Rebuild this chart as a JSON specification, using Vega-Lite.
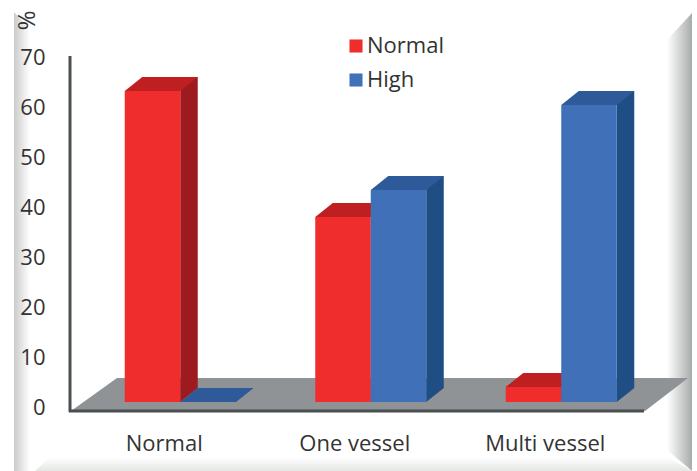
{
  "$schema": "https://vega.github.io/schema/vega-lite/v6.json",
  "width": 575,
  "height": 360,
  "autosize": "none",
  "padding": {"left": 70, "top": 52, "right": 52, "bottom": 59},
  "background": "white",
  "config": {
    "view": {"stroke": null},
    "font": "Open Sans",
    "point": {"filled": true, "opacity": 1, "size": 4, "strokeWidth": 0}
  },
  "data": {"values": [
    {"category": "Normal", "series": "Normal", "value": 62.2},
    {"category": "Normal", "series": "High", "value": 0},
    {"category": "One vessel", "series": "Normal", "value": 37},
    {"category": "One vessel", "series": "High", "value": 42.4},
    {"category": "Multi vessel", "series": "Normal", "value": 3},
    {"category": "Multi vessel", "series": "High", "value": 59.4}
  ]},
  "encoding": {
    "x": {
      "field": "category",
      "type": "nominal",
      "title": null,
      "scale": {"domain": ["Normal", "One vessel", "Multi vessel"], "range": [15, 586.5], "paddingInner": 0, "paddingOuter": 0},
      "axis": {"labelAngle": 0, "labelOffset": -16, "labelPadding": 21, "labelFontSize": 22, "labelFont": "Open Sans", "labelColor": "#333333", "ticks": false, "domain": false, "grid": false, "zindex": 1}
    },
    "y": {
      "field": "value",
      "type": "quantitative",
      "scale": {"domain": [-2, 70], "nice": false, "zero": false},
      "axis": {"values": [0, 10, 20, 30, 40, 50, 60, 70], "domain": false, "ticks": false, "grid": false, "zindex": 1, "labelPadding": 25, "labelOffset": 5, "labelFontSize": 22, "labelFont": "Open Sans", "labelColor": "#333333", "title": "%", "titleAngle": 90, "titleFontSize": 24, "titleFontWeight": "normal", "titleColor": "#333333", "titleX": -58, "titleY": -32, "titleFont": "Open Sans"}
    }
  },
  "layer": [
    {
      "transform": [{"filter": "datum.category === 'One vessel' && datum.series === 'High'"}],
      "mark": {"type": "point", "shape": "M-356.75,-390L-340.75,-372L-340.75,69L-356.75,69Z", "color": {"gradient": "linear", "x1": 0, "x2": 1, "y1": 0, "y2": 0, "stops": [{"offset": 0, "color": "#c9ccca"}, {"offset": 1, "color": "#ffffff"}]}},
      "encoding": {"y": {"datum": 0}}
    },
    {
      "transform": [{"filter": "datum.category === 'One vessel' && datum.series === 'High'"}],
      "mark": {"type": "point", "shape": "M296.25,-362L321.25,-389L321.25,69L296.25,48Z", "color": {"gradient": "linear", "x1": 0, "x2": 1, "y1": 0, "y2": 0, "stops": [{"offset": 0, "color": "#ffffff"}, {"offset": 1, "color": "#a9adaa"}]}},
      "encoding": {"y": {"datum": 0}}
    },
    {
      "transform": [{"filter": "datum.category === 'One vessel' && datum.series === 'High'"}],
      "mark": {"type": "point", "shape": "M-335.75,69L-320.75,55L296.25,55L321.25,69Z", "color": {"gradient": "linear", "x1": 0, "x2": 0, "y1": 0, "y2": 1, "stops": [{"offset": 0, "color": "#ffffff"}, {"offset": 1, "color": "#e4e6e4"}]}},
      "encoding": {"y": {"datum": 0}}
    },
    {
      "transform": [{"filter": "datum.category === 'One vessel' && datum.series === 'High'"}],
      "mark": {"type": "point", "shape": "M-299.75,9L-253.75,-24L317.25,-24L274.25,9Z", "color": "#8f9395"},
      "encoding": {"y": {"datum": 0}}
    },
    {
      "transform": [{"filter": "datum.category === 'One vessel' && datum.series === 'High'"}],
      "mark": {"type": "point", "shape": "M-301.75,7.5L273.25,7.5L273.25,10.5L-301.75,10.5Z", "color": "#4a4f52"},
      "encoding": {"y": {"datum": 0}}
    },
    {
      "transform": [{"filter": "datum.series === 'Normal'"}],
      "mark": {"type": "rule", "strokeWidth": 17.5, "yOffset": -14, "y2Offset": -14, "color": "#9d1b1e"},
      "encoding": {
        "x": {"field": "category", "type": "nominal", "bandPosition": 0.5459},
        "y2": {"datum": 0}
      }
    },
    {
      "transform": [{"filter": "datum.series === 'High'"}],
      "mark": {"type": "rule", "strokeWidth": 17.5, "yOffset": -14, "y2Offset": -14, "color": "#1f4e85"},
      "encoding": {
        "x": {"field": "category", "type": "nominal", "bandPosition": 0.8373},
        "y2": {"datum": 0}
      }
    },
    {
      "mark": {"type": "point", "shape": "M27.75,0L27.75,-14L45.25,-14Z"},
      "encoding": {
        "xOffset": {"field": "series", "scale": {"domain": ["Normal", "High"], "paddingInner": 0, "paddingOuter": 0.716}},
        "y": {"datum": 0},
        "color": {"condition": {"test": "datum.series === 'High'", "value": "#1f4e85"}, "value": "#9d1b1e"}
      }
    },
    {
      "mark": {"type": "point", "shape": "M-27.75,0L27.75,0L45.25,-14L-10.25,-14Z"},
      "encoding": {
        "xOffset": {"field": "series", "scale": {"domain": ["Normal", "High"], "paddingInner": 0, "paddingOuter": 0.716}},
        "color": {"condition": {"test": "datum.series === 'High'", "value": "#2e5a9a"}, "value": "#c01f22"}
      }
    },
    {
      "mark": {"type": "bar"},
      "encoding": {
        "xOffset": {"field": "series", "scale": {"domain": ["Normal", "High"], "paddingInner": 0, "paddingOuter": 0.716}},
        "y2": {"datum": 0},
        "color": {
          "field": "series",
          "type": "nominal",
          "scale": {"domain": ["Normal", "High"], "range": ["#f02d2d", "#3f70b8"]},
          "legend": {"title": null, "orient": "none", "legendX": 275, "legendY": -21, "symbolType": "square", "symbolSize": 170, "symbolStrokeWidth": 0, "labelFontSize": 22, "labelFont": "Open Sans", "labelColor": "#333333", "labelOffset": 0, "rowPadding": 4, "clipHeight": 30}
        }
      }
    },
    {
      "transform": [{"filter": "datum.category === 'Normal' && datum.series === 'Normal'"}],
      "mark": {"type": "rule", "color": "#4a4f52", "strokeWidth": 3},
      "encoding": {
        "x": {"field": "category", "type": "nominal", "bandPosition": -0.07874},
        "y": {"datum": 69.2},
        "y2": {"datum": -2}
      }
    }
  ]
}
